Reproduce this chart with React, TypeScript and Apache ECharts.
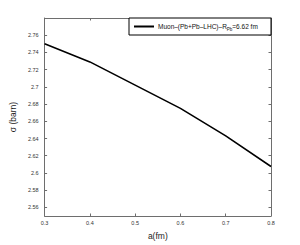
import React, { useEffect, useRef } from "react";
import * as echarts from "echarts";

const aValues = [0.3, 0.4, 0.5, 0.6, 0.7, 0.8];
const sigmaValues = [2.75, 2.729, 2.702, 2.675, 2.643, 2.6075];
const xTicks = [0.3, 0.4, 0.5, 0.6, 0.7, 0.8];
const yTicks = [2.56, 2.58, 2.6, 2.62, 2.64, 2.66, 2.68, 2.7, 2.72, 2.74, 2.76];
const seriesName = "Muon–(Pb+Pb–LHC)–R_Pb=6.62 fm";

export default function App() {
  const ref = useRef<HTMLDivElement>(null);
  useEffect(() => {
    if (!ref.current) return;
    const chart = echarts.init(ref.current, undefined, { renderer: "svg" });
    const font = "Liberation Sans, Arial, sans-serif";
    const axisLine = { show: true, lineStyle: { color: "#6e6e6e", width: 1 } };
    const tick = { show: true, inside: true, length: 2.5, lineStyle: { color: "#6e6e6e" } };
    chart.setOption({
      animation: false,
      backgroundColor: "#fff",
      grid: { left: 39, right: 29, top: 18, bottom: 28, containLabel: false },
      xAxis: [
        {
          type: "value",
          min: 0.3,
          max: 0.8,
          name: "a(fm)",
          nameLocation: "middle",
          nameGap: 15,
          nameTextStyle: { fontSize: 8.5, color: "#222", fontFamily: font },
          axisLine,
          axisTick: { ...tick, customValues: xTicks },
          axisLabel: {
            customValues: xTicks,
            fontSize: 5.5,
            color: "#333",
            fontFamily: font,
            margin: 4,
          },
          splitLine: { show: false },
        },
        {
          type: "value",
          position: "top",
          min: 0.3,
          max: 0.8,
          axisLine,
          axisTick: { ...tick, customValues: xTicks },
          axisLabel: { show: false },
          splitLine: { show: false },
        },
      ],
      yAxis: [
        {
          type: "value",
          min: 2.55,
          max: 2.78,
          name: "σ (barn)",
          nameLocation: "middle",
          nameGap: 23,
          nameTextStyle: { fontSize: 8.5, color: "#222", fontFamily: font },
          axisLine,
          axisTick: { ...tick, customValues: yTicks },
          axisLabel: {
            customValues: yTicks,
            fontSize: 5.5,
            color: "#333",
            fontFamily: font,
            margin: 6,
          },
          splitLine: { show: false },
        },
        {
          type: "value",
          position: "right",
          min: 2.55,
          max: 2.78,
          axisLine,
          axisTick: { ...tick, customValues: yTicks },
          axisLabel: { show: false },
          splitLine: { show: false },
        },
      ],
      series: [
        {
          name: seriesName,
          type: "line",
          data: aValues.map((a, i) => [a, sigmaValues[i]]),
          showSymbol: false,
          lineStyle: { color: "#000", width: 1.6 },
          xAxisIndex: 0,
          yAxisIndex: 0,
        },
      ],
      graphic: [
        {
          type: "rect",
          shape: { x: 129, y: 18, width: 142, height: 17 },
          style: { fill: "#fff", stroke: "#000", lineWidth: 1 },
          z: 10,
        },
        {
          type: "line",
          shape: { x1: 134, y1: 26.5, x2: 154, y2: 26.5 },
          style: { stroke: "#000", lineWidth: 2 },
          z: 11,
        },
        {
          type: "text",
          x: 158,
          y: 26.5,
          z: 11,
          style: {
            text: "{a|Muon–(Pb+Pb–LHC)–R}{b|Pb}{a|=6.62 fm}",
            verticalAlign: "middle",
            fontFamily: font,
            rich: {
              a: { fontSize: 6.5, fill: "#111", fontFamily: font },
              b: { fontSize: 4.5, fill: "#111", fontFamily: font, padding: [5, 0, 0, 0] },
            },
          },
        },
      ],
    });
    return () => chart.dispose();
  }, []);
  return <div ref={ref} style={{ width: 300, height: 245, position: "fixed", left: 0, top: 0 }} />;
}
